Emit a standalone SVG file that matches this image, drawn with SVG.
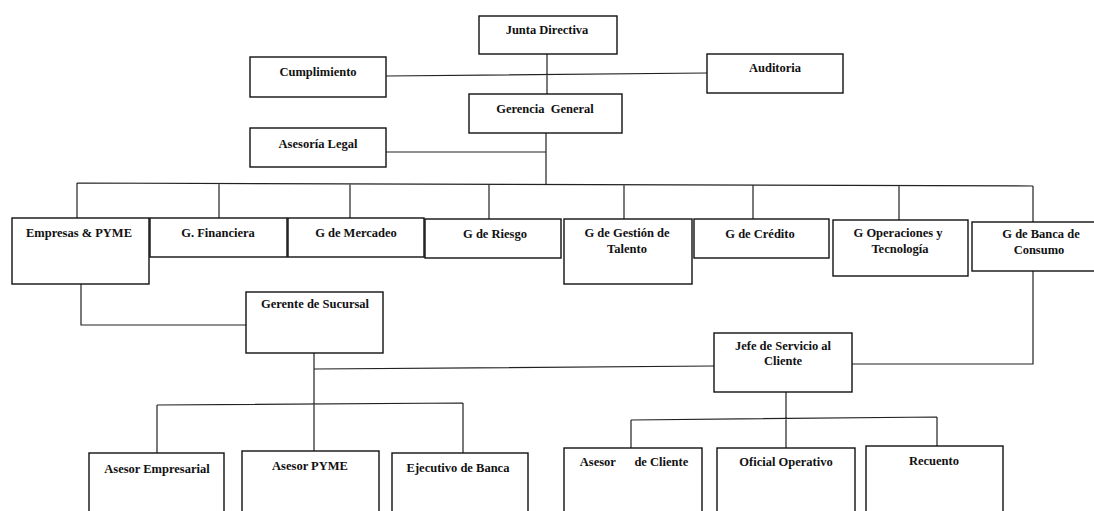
<svg xmlns="http://www.w3.org/2000/svg" width="1094" height="511" viewBox="0 0 1094 511">
<style>
.box{fill:#fff;stroke:#111;stroke-width:1.4}
.t{font-family:"Liberation Serif","Times New Roman",serif;font-weight:bold;font-size:12.5px;fill:#111;text-anchor:middle}
.c{fill:none;stroke:#222;stroke-width:1.2}
</style>
<rect width="1094" height="511" fill="#fff"/>
<g id="connectors">
<path class="c" d="M547 54V94M386 76L707 73M546 133V184M386 152H546"/>
<path class="c" d="M77 183L1033 186M77 183V218M219 184V218M350 184V218M489 184V219M624 185V219M753 185V219M899 186V220M1033 186V222"/>
<path class="c" d="M81 284V325H246M1033 271V364H852M314 353V451M314 369L714 366M157 405L463 403M157 405V453M463 403V453"/>
<path class="c" d="M786 392V448M631 420L937 417M631 420V448M937 417V446"/>
</g>
<g id="junta"><rect class="box" x="479" y="16" width="138" height="38"/><text class="t" x="547" y="34">Junta Directiva</text></g>
<g id="cumplimiento"><rect class="box" x="250" y="57" width="136" height="40"/><text class="t" x="318" y="76">Cumplimiento</text></g>
<g id="auditoria"><rect class="box" x="707" y="54" width="136" height="39"/><text class="t" x="775" y="72">Auditoria</text></g>
<g id="gerencia"><rect class="box" x="469" y="94" width="153" height="39"/><text class="t" x="545" y="113" xml:space="preserve">Gerencia  General</text></g>
<g id="legal"><rect class="box" x="250" y="128" width="136" height="39"/><text class="t" x="318" y="148">Asesoría Legal</text></g>
<g id="empresas"><rect class="box" x="12" y="218" width="137" height="66"/><text class="t" x="79" y="237">Empresas &amp; PYME</text></g>
<g id="financiera"><rect class="box" x="150" y="218" width="137" height="39"/><text class="t" x="218" y="237">G. Financiera</text></g>
<g id="mercadeo"><rect class="box" x="288" y="218" width="136" height="39"/><text class="t" x="356" y="237">G de Mercadeo</text></g>
<g id="riesgo"><rect class="box" x="425" y="219" width="136" height="39"/><text class="t" x="495" y="238">G de Riesgo</text></g>
<g id="talento"><rect class="box" x="564" y="219" width="128" height="65"/><text class="t" x="627" y="237">G de Gestión de</text><text class="t" x="627" y="253">Talento</text></g>
<g id="credito"><rect class="box" x="694" y="219" width="135" height="39"/><text class="t" x="760" y="238">G de Crédito</text></g>
<g id="operaciones"><rect class="box" x="833" y="220" width="135" height="56"/><text class="t" x="898" y="237">G Operaciones y</text><text class="t" x="900" y="253">Tecnología</text></g>
<g id="banca"><rect class="box" x="972" y="222" width="130" height="49"/><text class="t" x="1041" y="238">G de Banca de</text><text class="t" x="1039" y="254">Consumo</text></g>
<g id="sucursal"><rect class="box" x="246" y="292" width="137" height="61"/><text class="t" x="315" y="308">Gerente de Sucursal</text></g>
<g id="jefe"><rect class="box" x="714" y="333" width="138" height="59"/><text class="t" x="783" y="350">Jefe de Servicio al</text><text class="t" x="783" y="365">Cliente</text></g>
<g id="asesor-empresarial"><rect class="box" x="89" y="453" width="135" height="62"/><text class="t" x="157" y="473">Asesor Empresarial</text></g>
<g id="asesor-pyme"><rect class="box" x="242" y="451" width="137" height="64"/><text class="t" x="310" y="470">Asesor PYME</text></g>
<g id="ejecutivo"><rect class="box" x="392" y="453" width="136" height="62"/><text class="t" x="458" y="472">Ejecutivo de Banca</text></g>
<g id="asesor-cliente"><rect class="box" x="564" y="448" width="138" height="67"/><text class="t" x="634" y="466" xml:space="preserve">Asesor      de Cliente</text></g>
<g id="oficial"><rect class="box" x="717" y="448" width="138" height="67"/><text class="t" x="786" y="466">Oficial Operativo</text></g>
<g id="recuento"><rect class="box" x="866" y="446" width="137" height="69"/><text class="t" x="934" y="465">Recuento</text></g>
</svg>
